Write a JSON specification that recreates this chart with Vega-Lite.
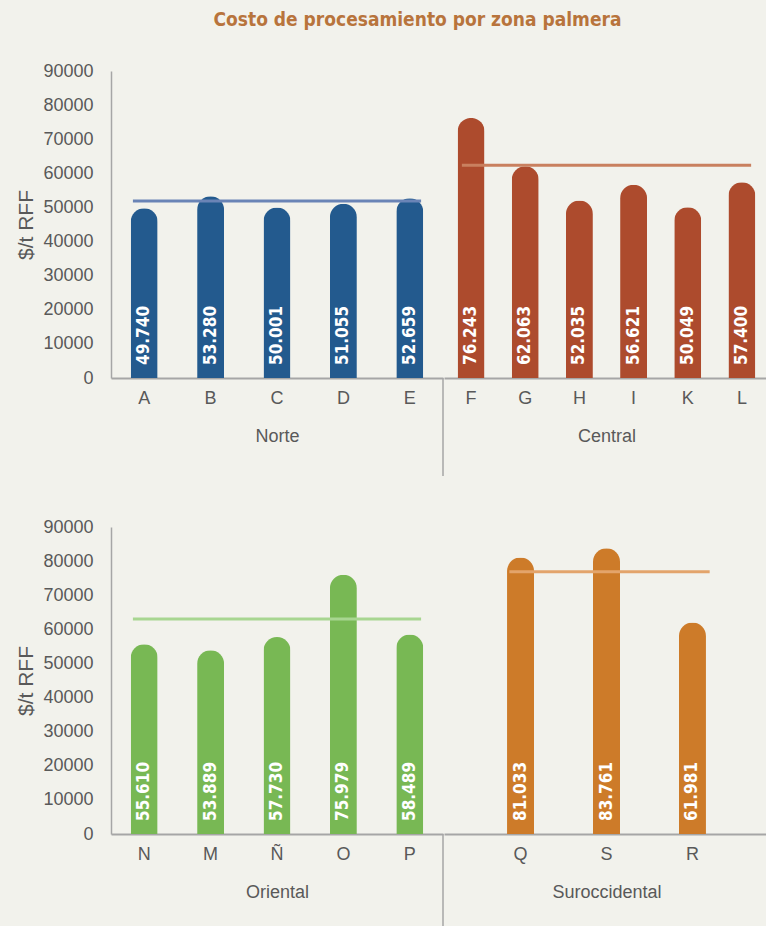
{
  "$schema": "https://vega.github.io/schema/vega-lite/v6.json",
  "background": "#f2f2ec",
  "padding": {"left": 15, "top": 11, "right": 0, "bottom": 20},
  "title": {"text": "Costo de procesamiento por zona palmera", "font": "DejaVu Sans Condensed", "fontSize": 19, "fontWeight": "bold", "color": "#b8743c", "anchor": "middle", "offset": 32, "dx": 25},
  "datasets": {
    "costos": [
      {"zona": "Norte", "cat": "A", "costo": 49740},
      {"zona": "Norte", "cat": "B", "costo": 53280},
      {"zona": "Norte", "cat": "C", "costo": 50001},
      {"zona": "Norte", "cat": "D", "costo": 51055},
      {"zona": "Norte", "cat": "E", "costo": 52659},
      {"zona": "Central", "cat": "F", "costo": 76243},
      {"zona": "Central", "cat": "G", "costo": 62063},
      {"zona": "Central", "cat": "H", "costo": 52035},
      {"zona": "Central", "cat": "I", "costo": 56621},
      {"zona": "Central", "cat": "K", "costo": 50049},
      {"zona": "Central", "cat": "L", "costo": 57400},
      {"zona": "Oriental", "cat": "N", "costo": 55610},
      {"zona": "Oriental", "cat": "M", "costo": 53889},
      {"zona": "Oriental", "cat": "Ñ", "costo": 57730},
      {"zona": "Oriental", "cat": "O", "costo": 75979},
      {"zona": "Oriental", "cat": "P", "costo": 58489},
      {"zona": "Suroccidental", "cat": "Q", "costo": 81033},
      {"zona": "Suroccidental", "cat": "S", "costo": 83761},
      {"zona": "Suroccidental", "cat": "R", "costo": 61981}
    ],
    "promedios": [
      {"zona": "Norte", "desde": "A", "hasta": "E", "promedio": 51900},
      {"zona": "Central", "desde": "F", "hasta": "L", "promedio": 62400},
      {"zona": "Oriental", "desde": "N", "hasta": "P", "promedio": 63000},
      {"zona": "Suroccidental", "desde": "Q", "hasta": "R", "promedio": 76900}
    ]
  },
  "config": {
    "locale": {"number": {"decimal": ",", "thousands": ".", "grouping": [3], "currency": ["$", ""]}},
    "view": {"stroke": null},
    "font": "Liberation Sans",
    "axis": {"labelFont": "Liberation Sans", "titleFont": "Liberation Sans", "labelColor": "#595959", "titleColor": "#595959", "titleFontWeight": "normal", "domainColor": "#a6a6a6", "ticks": false, "grid": false, "labelOverlap": false},
    "axisX": {"labelFontSize": 18, "labelAngle": 0, "labelPadding": 11, "domainWidth": 2, "titleFontSize": 18, "titlePadding": 20},
    "axisY": {"labelFontSize": 18, "labelPadding": 18, "domainWidth": 1.5, "titleFontSize": 21, "titlePadding": 6, "labelOverlap": false}
  },
  "spacing": 41,
  "vconcat": [
    {
      "spacing": 0,
      "hconcat": [
        {
          "width": 332, "height": 307,
          "layer": [
            {
              "data": {"name": "costos"},
              "transform": [{"filter": "datum.zona === 'Norte'"}],
              "mark": {"type": "bar", "size": 27, "cornerRadiusTopLeft": 13.5, "cornerRadiusTopRight": 13.5, "color": "#235a8e"},
              "encoding": {
                "x": {"field": "cat", "type": "nominal", "scale": {"domain": ["A", "B", "C", "D", "E"], "paddingOuter": 0, "paddingInner": 0}, "axis": {"title": "Norte"}},
                "y": {"field": "costo", "type": "quantitative", "scale": {"domain": [0, 90000]}, "axis": {"title": "$/t RFF", "values": [0, 10000, 20000, 30000, 40000, 50000, 60000, 70000, 80000, 90000], "format": "d", "labelOverlap": false, "tickCount": 10}}
              }
            },
            {
              "data": {"name": "costos"},
              "transform": [{"filter": "datum.zona === 'Norte'"}],
              "mark": {"type": "text", "angle": 270, "align": "left", "baseline": "middle", "dx": 13, "color": "white", "font": "DejaVu Sans Condensed", "fontWeight": "bold", "fontSize": 17},
              "encoding": {
                "x": {"field": "cat", "type": "nominal", "scale": {"domain": ["A", "B", "C", "D", "E"], "paddingOuter": 0, "paddingInner": 0}},
                "y": {"datum": 0, "type": "quantitative"},
                "text": {"field": "costo", "type": "quantitative", "format": ",d"}
              }
            },
            {
              "data": {"name": "promedios"},
              "transform": [{"filter": "datum.zona === 'Norte'"}],
              "mark": {"type": "rule", "strokeWidth": 3, "color": "#6a84b6"},
              "encoding": {
                "x": {"field": "desde", "type": "nominal", "bandPosition": 0.33, "scale": {"domain": ["A", "B", "C", "D", "E"], "paddingOuter": 0, "paddingInner": 0}},
                "x2": {"field": "hasta", "bandPosition": 0.67},
                "y": {"field": "promedio", "type": "quantitative"}
              }
            },
            {
              "data": {"values": [{}]},
              "mark": {"type": "rule", "strokeWidth": 1.5, "color": "#a6a6a6"},
              "encoding": {
                "x": {"datum": "E", "type": "nominal", "bandPosition": 1, "scale": {"domain": ["A", "B", "C", "D", "E"], "paddingOuter": 0, "paddingInner": 0}},
                "y": {"datum": 0, "type": "quantitative"},
                "y2": {"datum": -28700}
              }
            }
          ]
        },
        {
          "width": 325, "height": 307,
          "layer": [
            {
              "data": {"name": "costos"},
              "transform": [{"filter": "datum.zona === 'Central'"}],
              "mark": {"type": "bar", "size": 27, "cornerRadiusTopLeft": 13.5, "cornerRadiusTopRight": 13.5, "color": "#ad4b2d"},
              "encoding": {
                "x": {"field": "cat", "type": "nominal", "scale": {"domain": ["F", "G", "H", "I", "K", "L"], "paddingOuter": 0, "paddingInner": 0}, "axis": {"title": "Central"}},
                "y": {"field": "costo", "type": "quantitative", "scale": {"domain": [0, 90000]}, "axis": null}
              }
            },
            {
              "data": {"name": "costos"},
              "transform": [{"filter": "datum.zona === 'Central'"}],
              "mark": {"type": "text", "angle": 270, "align": "left", "baseline": "middle", "dx": 13, "color": "white", "font": "DejaVu Sans Condensed", "fontWeight": "bold", "fontSize": 17},
              "encoding": {
                "x": {"field": "cat", "type": "nominal", "scale": {"domain": ["F", "G", "H", "I", "K", "L"], "paddingOuter": 0, "paddingInner": 0}},
                "y": {"datum": 0, "type": "quantitative"},
                "text": {"field": "costo", "type": "quantitative", "format": ",d"}
              }
            },
            {
              "data": {"name": "promedios"},
              "transform": [{"filter": "datum.zona === 'Central'"}],
              "mark": {"type": "rule", "strokeWidth": 3, "color": "#c9805f"},
              "encoding": {
                "x": {"field": "desde", "type": "nominal", "bandPosition": 0.33, "scale": {"domain": ["F", "G", "H", "I", "K", "L"], "paddingOuter": 0, "paddingInner": 0}},
                "x2": {"field": "hasta", "bandPosition": 0.67},
                "y": {"field": "promedio", "type": "quantitative"}
              }
            }
          ]
        }
      ]
    },
    {
      "spacing": 0,
      "hconcat": [
        {
          "width": 332, "height": 307,
          "layer": [
            {
              "data": {"name": "costos"},
              "transform": [{"filter": "datum.zona === 'Oriental'"}],
              "mark": {"type": "bar", "size": 27, "cornerRadiusTopLeft": 13.5, "cornerRadiusTopRight": 13.5, "color": "#78b854"},
              "encoding": {
                "x": {"field": "cat", "type": "nominal", "scale": {"domain": ["N", "M", "Ñ", "O", "P"], "paddingOuter": 0, "paddingInner": 0}, "axis": {"title": "Oriental"}},
                "y": {"field": "costo", "type": "quantitative", "scale": {"domain": [0, 90000]}, "axis": {"title": "$/t RFF", "values": [0, 10000, 20000, 30000, 40000, 50000, 60000, 70000, 80000, 90000], "format": "d", "labelOverlap": false, "tickCount": 10}}
              }
            },
            {
              "data": {"name": "costos"},
              "transform": [{"filter": "datum.zona === 'Oriental'"}],
              "mark": {"type": "text", "angle": 270, "align": "left", "baseline": "middle", "dx": 13, "color": "white", "font": "DejaVu Sans Condensed", "fontWeight": "bold", "fontSize": 17},
              "encoding": {
                "x": {"field": "cat", "type": "nominal", "scale": {"domain": ["N", "M", "Ñ", "O", "P"], "paddingOuter": 0, "paddingInner": 0}},
                "y": {"datum": 0, "type": "quantitative"},
                "text": {"field": "costo", "type": "quantitative", "format": ",d"}
              }
            },
            {
              "data": {"name": "promedios"},
              "transform": [{"filter": "datum.zona === 'Oriental'"}],
              "mark": {"type": "rule", "strokeWidth": 3, "color": "#a8d691"},
              "encoding": {
                "x": {"field": "desde", "type": "nominal", "bandPosition": 0.33, "scale": {"domain": ["N", "M", "Ñ", "O", "P"], "paddingOuter": 0, "paddingInner": 0}},
                "x2": {"field": "hasta", "bandPosition": 0.67},
                "y": {"field": "promedio", "type": "quantitative"}
              }
            },
            {
              "data": {"values": [{}]},
              "mark": {"type": "rule", "strokeWidth": 1.5, "color": "#a6a6a6"},
              "encoding": {
                "x": {"datum": "P", "type": "nominal", "bandPosition": 1, "scale": {"domain": ["N", "M", "Ñ", "O", "P"], "paddingOuter": 0, "paddingInner": 0}},
                "y": {"datum": 0, "type": "quantitative"},
                "y2": {"datum": -28700}
              }
            }
          ]
        },
        {
          "width": 325, "height": 307,
          "layer": [
            {
              "data": {"name": "costos"},
              "transform": [{"filter": "datum.zona === 'Suroccidental'"}],
              "mark": {"type": "bar", "size": 27, "cornerRadiusTopLeft": 13.5, "cornerRadiusTopRight": 13.5, "color": "#cd7b29"},
              "encoding": {
                "x": {"field": "cat", "type": "nominal", "scale": {"domain": ["Q", "S", "R"], "paddingOuter": 0.39, "paddingInner": 0}, "axis": {"title": "Suroccidental"}},
                "y": {"field": "costo", "type": "quantitative", "scale": {"domain": [0, 90000]}, "axis": null}
              }
            },
            {
              "data": {"name": "costos"},
              "transform": [{"filter": "datum.zona === 'Suroccidental'"}],
              "mark": {"type": "text", "angle": 270, "align": "left", "baseline": "middle", "dx": 13, "color": "white", "font": "DejaVu Sans Condensed", "fontWeight": "bold", "fontSize": 17},
              "encoding": {
                "x": {"field": "cat", "type": "nominal", "scale": {"domain": ["Q", "S", "R"], "paddingOuter": 0.39, "paddingInner": 0}},
                "y": {"datum": 0, "type": "quantitative"},
                "text": {"field": "costo", "type": "quantitative", "format": ",d"}
              }
            },
            {
              "data": {"name": "promedios"},
              "transform": [{"filter": "datum.zona === 'Suroccidental'"}],
              "mark": {"type": "rule", "strokeWidth": 3, "color": "#e3a46b"},
              "encoding": {
                "x": {"field": "desde", "type": "nominal", "bandPosition": 0.37, "scale": {"domain": ["Q", "S", "R"], "paddingOuter": 0.39, "paddingInner": 0}},
                "x2": {"field": "hasta", "bandPosition": 0.7},
                "y": {"field": "promedio", "type": "quantitative"}
              }
            }
          ]
        }
      ]
    }
  ]
}
